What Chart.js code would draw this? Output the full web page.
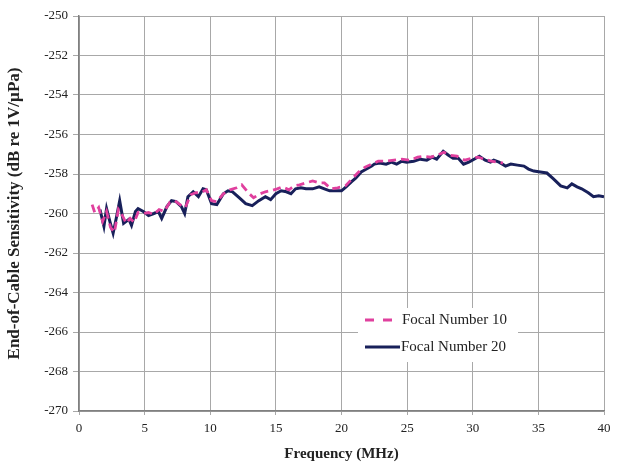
<!DOCTYPE html>
<html>
<head>
<meta charset="utf-8">
<script src="https://cdn.jsdelivr.net/npm/chart.js@4.4.1/dist/chart.umd.min.js"></script>
<style>
  html, body { margin: 0; padding: 0; background: #ffffff; }
  #wrap { width: 623px; height: 469px; position: relative; }
</style>
</head>
<body>
<div id="wrap"><canvas id="c" width="623" height="469"></canvas></div>
<script>
// ---- Data ----
const freq10 = [1.0, 1.2, 1.5, 1.8, 2.1, 2.4, 2.7, 3.0, 3.3, 3.6, 3.9, 4.2, 4.5, 4.9, 5.3, 5.7, 6.1, 6.5, 6.9, 7.3, 7.7, 8.1, 8.5, 8.9, 9.3, 9.7, 10.1, 10.5, 11.0, 11.5, 12.0, 12.4, 12.9, 13.3, 13.8, 14.2, 14.6, 15.1, 15.5, 16.0, 16.4, 16.8, 17.3, 17.8, 18.3, 18.7, 19.2, 19.7, 20.3, 20.8, 21.3, 21.8, 22.3, 22.8, 23.4, 24.0, 24.6, 25.2, 25.8, 26.3, 26.8, 27.3, 27.8, 28.3, 28.8, 29.4, 29.9, 30.4, 30.9, 31.4, 31.9, 32.3];
const sens10 = [-259.55, -259.95, -259.7, -260.4, -259.9, -260.7, -260.95, -259.8, -260.1, -260.5, -260.25, -260.45, -259.95, -260.0, -259.95, -260.05, -259.8, -259.9, -259.45, -259.35, -259.55, -259.7, -259.05, -258.95, -258.95, -258.8, -259.35, -259.4, -259.0, -258.8, -258.7, -258.55, -258.95, -259.2, -259.0, -258.9, -258.85, -258.75, -258.65, -258.8, -258.6, -258.55, -258.45, -258.35, -258.45, -258.45, -258.75, -258.7, -258.6, -258.25, -257.9, -257.65, -257.5, -257.35, -257.35, -257.3, -257.25, -257.3, -257.15, -257.1, -257.15, -257.05, -256.9, -257.05, -257.1, -257.3, -257.2, -257.15, -257.25, -257.35, -257.4, -257.45];

const freq20 = [1.6, 1.9, 2.1, 2.35, 2.6, 2.85, 3.1, 3.4, 3.8, 4.0, 4.3, 4.5, 4.9, 5.3, 5.7, 6.05, 6.3, 6.7, 7.05, 7.4, 7.8, 8.05, 8.3, 8.7, 9.1, 9.45, 9.7, 10.1, 10.5, 11.0, 11.35, 11.7, 12.2, 12.7, 13.2, 13.7, 14.2, 14.6, 15.0, 15.4, 15.8, 16.15, 16.5, 16.9, 17.3, 17.8, 18.3, 18.7, 19.1, 19.5, 20.0, 20.35, 20.75, 21.1, 21.5, 21.9, 22.3, 22.5, 22.9, 23.4, 23.8, 24.2, 24.6, 24.95, 25.5, 26.0, 26.5, 26.9, 27.25, 27.75, 28.15, 28.5, 28.9, 29.3, 29.7, 30.1, 30.5, 30.95, 31.35, 31.6, 32.0, 32.5, 32.9, 33.4, 33.9, 34.25, 34.65, 35.15, 35.65, 36.15, 36.7, 37.2, 37.55, 37.95, 38.3, 38.8, 39.2, 39.6, 40.0];
const sens20 = [-259.8, -260.65, -259.75, -260.4, -261.0, -260.2, -259.35, -260.5, -260.3, -260.6, -259.9, -259.75, -259.9, -260.1, -260.0, -259.9, -260.25, -259.65, -259.35, -259.4, -259.65, -260.0, -259.15, -258.9, -259.15, -258.75, -258.8, -259.5, -259.55, -259.0, -258.85, -258.9, -259.2, -259.5, -259.6, -259.35, -259.15, -259.3, -259.0, -258.85, -258.9, -259.0, -258.75, -258.7, -258.75, -258.75, -258.65, -258.75, -258.85, -258.85, -258.85, -258.65, -258.4, -258.2, -257.9, -257.75, -257.6, -257.5, -257.45, -257.5, -257.4, -257.5, -257.35, -257.4, -257.35, -257.25, -257.3, -257.15, -257.25, -256.85, -257.05, -257.2, -257.2, -257.5, -257.4, -257.25, -257.1, -257.3, -257.4, -257.3, -257.4, -257.6, -257.5, -257.55, -257.6, -257.75, -257.85, -257.9, -257.95, -258.25, -258.6, -258.7, -258.5, -258.65, -258.75, -258.95, -259.15, -259.1, -259.15];

const seriesNames = ["Focal Number 10", "Focal Number 20"];
const xTitle = "Frequency (MHz)";
const yTitle = "End-of-Cable Sensitivity (dB re 1V/\u00B5Pa)";

const pts = (xs, ys) => xs.map((x, i) => ({ x: x, y: ys[i] }));

const PINK = "#e0409e";
const NAVY = "#18205a";
const FONT = "'Liberation Serif', 'Times New Roman', serif";

const legendPlugin = {
  id: "boxLegend",
  afterDatasetsDraw(chart) {
    const ctx = chart.ctx;
    const a = chart.chartArea;
    const bx = a.left + 279, by = a.top + 292, bw = 160, bh = 54;
    ctx.save();
    ctx.fillStyle = "#ffffff";
    ctx.fillRect(bx, by, bw, bh);
    ctx.lineWidth = 3;
    ctx.strokeStyle = PINK;
    ctx.setLineDash([9, 9]);
    ctx.beginPath();
    ctx.moveTo(bx + 7, by + 12);
    ctx.lineTo(bx + 36, by + 12);
    ctx.stroke();
    ctx.setLineDash([]);
    ctx.strokeStyle = NAVY;
    ctx.beginPath();
    ctx.moveTo(bx + 7, by + 39);
    ctx.lineTo(bx + 42, by + 39);
    ctx.stroke();
    ctx.fillStyle = "#222222";
    ctx.font = "15px " + FONT;
    ctx.textBaseline = "middle";
    ctx.textAlign = "left";
    ctx.fillText(seriesNames[0], bx + 44, by + 12);
    ctx.fillText(seriesNames[1], bx + 43, by + 39);
    ctx.restore();
  }
};

new Chart(document.getElementById("c"), {
  type: "line",
  data: {
    datasets: [
      {
        label: seriesNames[0],
        data: pts(freq10, sens10),
        borderColor: PINK,
        borderWidth: 2.8,
        borderDash: [8, 5],
        pointRadius: 0,
        tension: 0,
        fill: false
      },
      {
        label: seriesNames[1],
        data: pts(freq20, sens20),
        borderColor: NAVY,
        borderWidth: 3,
        pointRadius: 0,
        tension: 0,
        fill: false
      }
    ]
  },
  options: {
    responsive: false,
    animation: false,
    devicePixelRatio: 1,
    layout: { padding: { left: 0, right: 19, top: 16, bottom: 0 } },
    plugins: {
      legend: { display: false },
      tooltip: { enabled: false }
    },
    scales: {
      x: {
        type: "linear",
        min: 0, max: 40,
        ticks: { stepSize: 5, color: "#222", font: { family: FONT, size: 13 }, padding: 6, maxRotation: 0 },
        grid: { color: "#a8a8a8", lineWidth: 1, tickLength: 4 },
        border: { color: "#808080", width: 1.5 },
        title: { display: true, text: xTitle, color: "#222", font: { family: FONT, size: 15, weight: "bold" }, padding: { top: 2, bottom: 6 } },
        afterFit(s) { s.height = 58; }
      },
      y: {
        type: "linear",
        min: -270, max: -250,
        ticks: { stepSize: 2, color: "#222", font: { family: FONT, size: 13 }, padding: 5 },
        grid: { color: "#a8a8a8", lineWidth: 1, tickLength: 6 },
        border: { color: "#808080", width: 1.5 },
        title: { display: true, text: yTitle, color: "#222", font: { family: FONT, size: 17, weight: "bold" }, padding: { top: 4, bottom: 2 } },
        afterFit(s) { s.width = 79; }
      }
    }
  },
  plugins: [legendPlugin]
});
</script>
</body>
</html>
